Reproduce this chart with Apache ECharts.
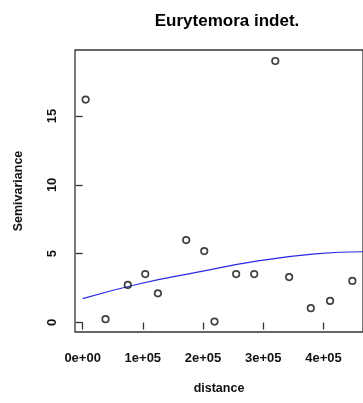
<!DOCTYPE html>
<html style="height: 100%">
<head>
  <meta charset="utf-8">
  <script src="https://cdn.jsdelivr.net/npm/echarts@6/dist/echarts.min.js"></script>
</head>
<body style="height: 100%; width: 100%; margin: 0; background: #fff">
<div id="chart" style="width: 363px; height: 403px"></div>
<script type="text/javascript">
// semivariogram points (distance, semivariance)
var distances = [5000, 38000, 75000, 104000, 125000, 172000, 202000, 219000, 255000, 285000, 320000, 343000, 379000, 411000, 448000];
var semivar   = [16.2, 0.24, 2.73, 3.52, 2.12, 5.99, 5.19, 0.07, 3.52, 3.52, 19.0, 3.30, 1.04, 1.57, 3.02];

// fitted model line
var fitDist = [0, 93000, 191000, 289000, 386000, 466000];
var fitVal  = [1.74, 2.80, 3.66, 4.46, 4.98, 5.14];

var xTicks = [0, 100000, 200000, 300000, 400000];
var yTicks = [0, 5, 10, 15];

function sci(v) {
  if (v === 0) return '0e+00';
  var e = Math.floor(Math.log10(Math.abs(v)));
  var m = Math.round(v / Math.pow(10, e));
  return m + 'e+' + (e < 10 ? '0' : '') + e;
}

var pts = [];
for (var i = 0; i < distances.length; i++) pts.push([distances[i], semivar[i]]);
var fit = [];
for (var j = 0; j < fitDist.length; j++) fit.push([fitDist[j], fitVal[j]]);

var myChart = echarts.init(document.getElementById('chart'), null, {renderer: 'canvas'});
var font = 'Liberation Sans, Arial, sans-serif';

var option = {
  animation: false,
  title: {
    text: 'Eurytemora indet.',
    left: 222,
    top: 8,
    textAlign: 'center',
    textStyle: {fontFamily: font, fontSize: 17, fontWeight: 'bold', color: '#000'}
  },
  grid: {
    left: 75, top: 50, width: 294, height: 282,
    show: true, borderColor: '#333', borderWidth: 1.3, backgroundColor: 'transparent'
  },
  xAxis: {
    type: 'value',
    min: -12700, max: 465700,
    name: 'distance',
    nameLocation: 'middle',
    nameGap: 50,
    nameTextStyle: {fontFamily: font, fontSize: 12.5, fontWeight: 'bold', color: '#111'},
    axisLine: {show: false},
    splitLine: {show: false},
    axisTick: {show: true, inside: false, length: 7, customValues: xTicks, lineStyle: {color: '#333', width: 1.3}},
    axisLabel: {show: true, customValues: xTicks, margin: 20, formatter: sci,
      fontFamily: font, fontSize: 13, fontWeight: 'bold', color: '#111'}
  },
  yAxis: {
    type: 'value',
    min: -0.69, max: 19.8,
    name: 'Semivariance',
    nameLocation: 'middle',
    nameGap: 50,
    nameTextStyle: {fontFamily: font, fontSize: 12.5, fontWeight: 'bold', color: '#111'},
    axisLine: {show: false},
    splitLine: {show: false},
    axisTick: {show: true, inside: false, length: 7, customValues: yTicks, lineStyle: {color: '#333', width: 1.3}},
    axisLabel: {show: true, customValues: yTicks, rotate: 90, margin: 16,
      fontFamily: font, fontSize: 13, fontWeight: 'bold', color: '#111'}
  },
  series: [
    {
      type: 'line',
      data: fit,
      smooth: 0.5,
      showSymbol: false,
      symbol: 'none',
      lineStyle: {color: '#2a2ae6', width: 1.2},
      z: 2
    },
    {
      type: 'scatter',
      data: pts,
      symbol: 'circle',
      symbolSize: 6.5,
      itemStyle: {color: 'rgba(0,0,0,0)', borderColor: '#111', borderWidth: 1.7},
      z: 3
    }
  ]
};
myChart.setOption(option);
</script>
</body>
</html>
